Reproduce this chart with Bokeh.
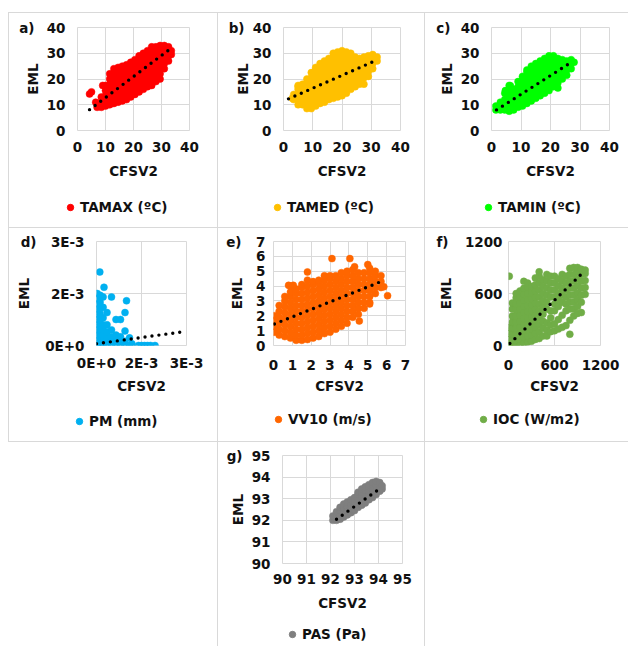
from bokeh.plotting import figure
from bokeh.layouts import column, row
from bokeh.models import Range1d, FixedTicker, Legend, LegendItem, Spacer, LinearAxis
from bokeh.embed import file_html
from bokeh.resources import INLINE

FONT = "DejaVu Sans"
FS = "13.5px"
GRID = "#d9d9d9"
INK = "#111111"

# ---------------- data ----------------
# clouds written as {x: [y, y, ...]} columns plus isolated points
TAMAX_COLS = {
    7: [9, 10.5], 8.5: [9, 11, 13], 10: [9.5, 11.5, 13.5, 15.5, 17.5],
    11.5: [10, 12, 14, 16, 18, 20, 22], 13: [10.5, 12.5, 14.5, 16.5, 18.5, 20.5, 22.5, 24],
    14.5: [11, 13, 15, 17, 19, 21, 23, 24.5], 16: [11.5, 13.5, 15.5, 17.5, 19.5, 21.5, 23.5, 25],
    17.5: [12, 14, 16, 18, 20, 22, 24, 25.5], 19: [13, 15, 17, 19, 21, 23, 25, 26.5],
    20.5: [14, 16, 18, 20, 22, 24, 26, 27.5], 22: [15, 17, 19, 21, 23, 25, 27, 29],
    23.5: [16, 18, 20, 22, 24, 26, 28, 30], 25: [17, 19, 21, 23, 25, 27, 29, 31],
    26.5: [17.5, 19.5, 21.5, 23.5, 25.5, 27.5, 29.5, 31.5, 32.5],
    28: [19, 21, 23, 25, 27, 29, 31, 32.5], 29.5: [20, 22, 24, 26, 28, 30, 32, 33],
    31: [24, 26, 28, 30, 32, 33], 32.5: [27, 29, 31, 32.5], 33.5: [29.5, 31],
}
TAMAX_OUT = [(4.3, 14.2), (5, 15), (6.5, 11), (9, 17.5)]
TAMAX_TREND_X = [4.3, 32.5]
TAMAX_TREND_Y = [8.1, 31.2]

TAMED_COLS = {
    3.5: [12, 14], 5: [10, 12, 14, 16, 17.5], 6.5: [10, 12, 14, 16, 18],
    8: [8.5, 10.5, 12.5, 14.5, 16.5, 18.5, 20], 9.5: [8.5, 10.5, 12.5, 14.5, 16.5, 18.5, 20.5, 22.5],
    11: [9.5, 11.5, 13.5, 15.5, 17.5, 19.5, 21.5, 23.5, 24.5],
    12.5: [10.5, 12.5, 14.5, 16.5, 18.5, 20.5, 22.5, 24.5, 26],
    14: [11, 13, 15, 17, 19, 21, 23, 25, 27], 15.5: [12, 14, 16, 18, 20, 22, 24, 26, 28],
    17: [12.5, 14.5, 16.5, 18.5, 20.5, 22.5, 24.5, 26.5, 28.5, 30],
    18.5: [13, 15, 17, 19, 21, 23, 25, 27, 29, 30.5],
    20: [13.5, 15.5, 17.5, 19.5, 21.5, 23.5, 25.5, 27.5, 29.5, 31],
    21.5: [14.5, 16.5, 18.5, 20.5, 22.5, 24.5, 26.5, 28.5, 30.5],
    23: [16, 18, 20, 22, 24, 26, 28, 30], 24.5: [17, 19, 21, 23, 25, 27, 28.5],
    26: [18, 20, 22, 24, 26, 28], 27.5: [18, 20.5, 22.5, 24.5, 26.5, 28.5],
    29: [21, 23, 25, 27, 29], 30.5: [24, 26, 28, 29.5], 32: [27, 28.5],
}
TAMED_OUT = [(3, 12.5), (5, 17)]
TAMED_TREND_X = [1.7, 30.8]
TAMED_TREND_Y = [12.3, 26.8]

TAMIN_COLS = {
    1.5: [8, 9.5], 3: [8, 9.5, 11], 4.5: [8, 10, 12, 14.5],
    6: [7.5, 9.5, 11.5, 13.5, 15.5, 17.5], 7.5: [8, 10, 12, 14, 16],
    9: [9, 11, 13, 15, 17, 19], 10.5: [9.5, 11.5, 13.5, 15.5, 17.5, 19.5, 21],
    12: [10.5, 12.5, 14.5, 16.5, 18.5, 20.5, 22.5, 23.5],
    13.5: [11.5, 13.5, 15.5, 17.5, 19.5, 21.5, 23.5, 25],
    15: [12.5, 14.5, 16.5, 18.5, 20.5, 22.5, 24.5, 26],
    16.5: [13.5, 15.5, 17.5, 19.5, 21.5, 23.5, 25.5, 27],
    18: [14.5, 16.5, 18.5, 20.5, 22.5, 24.5, 26.5, 28],
    19.5: [15.5, 17.5, 19.5, 21.5, 23.5, 25.5, 27.5, 29],
    21: [17, 19, 21, 23, 25, 27, 29], 22.5: [16.5, 18.5, 20.5, 22.5, 24.5, 26.5, 28],
    24: [20, 22, 24, 26, 27.5], 25.5: [21.5, 23.5, 25.5, 27], 27: [24, 26, 27.5], 28: [26.5],
}
TAMIN_OUT = [(4.7, 15.5), (6.4, 17.4)]
TAMIN_TREND_X = [1.7, 27.5]
TAMIN_TREND_Y = [8.0, 26.8]

PM_COLS = {
    0.02e-3: [0, 0.15e-3, 0.3e-3, 0.45e-3, 0.6e-3, 0.75e-3, 0.9e-3, 1.05e-3, 1.2e-3, 1.35e-3, 1.5e-3],
    0.12e-3: [0, 0.15e-3, 0.3e-3, 0.45e-3, 0.6e-3, 0.75e-3, 0.9e-3, 1.05e-3, 1.25e-3, 1.45e-3],
    0.22e-3: [0, 0.15e-3, 0.3e-3, 0.45e-3, 0.6e-3, 0.8e-3, 1.1e-3, 1.4e-3],
    0.35e-3: [0, 0.12e-3, 0.25e-3, 0.4e-3, 0.6e-3, 0.95e-3],
    0.5e-3: [0, 0.12e-3, 0.25e-3, 0.45e-3, 1.4e-3],
    0.65e-3: [0, 0.12e-3, 0.3e-3, 0.75e-3],
    0.8e-3: [0, 0.12e-3, 0.25e-3, 0.75e-3],
    0.95e-3: [0, 0.12e-3, 0.42e-3, 0.95e-3],
    1.1e-3: [0, 0.22e-3],
}
PM_OUT = [(0.11e-3, 2.12e-3), (0.25e-3, 1.68e-3), (1.0e-3, 1.29e-3), (1.18e-3, 0.05e-3),
          (1.4e-3, 0), (1.5e-3, 0), (1.6e-3, 0), (1.7e-3, 0), (1.8e-3, 0), (1.95e-3, 0)]
PM_TREND_X = [0, 3e-3]
PM_TREND_Y = [0.05e-3, 0.41e-3]

VV10_COLS = {
    0.05: [0.9, 1.3, 1.7, 2.0], 0.3: [0.7, 1.1, 1.5, 1.9, 2.3, 2.7],
    0.6: [0.6, 1.0, 1.4, 1.8, 2.2, 2.6, 3.0, 3.3],
    0.9: [0.5, 0.9, 1.3, 1.7, 2.1, 2.5, 2.9, 3.3, 3.6, 4.0],
    1.2: [0.35, 0.7, 1.1, 1.5, 1.9, 2.3, 2.7, 3.1, 3.5, 3.8],
    1.5: [0.35, 0.7, 1.1, 1.5, 1.9, 2.3, 2.7, 3.1, 3.5, 3.9, 4.1],
    1.8: [0.4, 0.8, 1.2, 1.6, 2.0, 2.4, 2.8, 3.2, 3.6, 4.0, 4.4, 4.95],
    2.1: [0.5, 0.9, 1.3, 1.7, 2.1, 2.5, 2.9, 3.3, 3.7, 4.1, 4.3],
    2.4: [0.6, 1.0, 1.4, 1.8, 2.2, 2.6, 3.0, 3.4, 3.8, 4.2, 4.4],
    2.7: [0.8, 1.2, 1.6, 2.0, 2.4, 2.8, 3.2, 3.6, 4.0, 4.4, 4.7],
    3.0: [0.9, 1.3, 1.7, 2.1, 2.5, 2.9, 3.3, 3.7, 4.1, 4.5, 4.7],
    3.3: [1.1, 1.5, 1.9, 2.3, 2.7, 3.1, 3.5, 3.9, 4.3, 4.7],
    3.6: [1.3, 1.7, 2.1, 2.5, 2.9, 3.3, 3.7, 4.1, 4.5, 4.9],
    3.9: [1.5, 1.9, 2.3, 2.7, 3.1, 3.5, 3.9, 4.3, 4.7, 5.0],
    4.2: [1.9, 2.3, 2.7, 3.1, 3.5, 3.9, 4.3, 4.7, 5.1],
    4.5: [2.1, 2.5, 2.9, 3.3, 3.7, 4.1, 4.5, 4.9],
    4.8: [2.5, 2.9, 3.3, 3.7, 4.1, 4.5, 4.9],
    5.1: [2.9, 3.3, 3.7, 4.1, 4.5, 4.9, 5.2],
    5.4: [3.5, 3.9, 4.3, 4.7, 5.0], 5.7: [3.9, 4.3, 4.7],
}
VV10_OUT = [(6.05, 3.35), (5.1, 2.8), (4.55, 1.65), (3.1, 5.85), (4.05, 5.85), (0.8, 4.05),
            (1.05, 4.05), (4.3, 5.3), (5.0, 5.45), (5.85, 3.95)]
VV10_TREND_X = [0.05, 5.8]
VV10_TREND_Y = [1.45, 4.35]

IOC_COLS = {
    10: [0, 70, 140, 210], 50: [0, 60, 130, 200, 270, 340, 420, 490],
    100: [0, 60, 130, 200, 270, 340, 410, 480, 550, 600],
    150: [0, 70, 140, 210, 280, 350, 420, 490, 560, 630],
    200: [30, 100, 170, 240, 310, 380, 450, 520, 590, 660, 740],
    250: [40, 110, 180, 250, 320, 390, 460, 530, 600, 670, 720],
    300: [50, 120, 190, 260, 330, 400, 470, 540, 610, 680],
    350: [70, 140, 210, 280, 350, 420, 490, 560, 630, 700, 780],
    400: [80, 160, 240, 320, 400, 480, 560, 640, 720, 800, 850],
    450: [110, 200, 280, 360, 440, 520, 600, 680, 760],
    500: [110, 180, 260, 420, 500, 580, 660, 740, 820],
    550: [160, 240, 320, 400, 560, 640, 720, 800],
    600: [170, 250, 400, 480, 560, 640, 720, 800],
    650: [190, 300, 450, 530, 610, 690, 770],
    700: [210, 350, 500, 580, 660, 740, 820],
    750: [230, 400, 480, 560, 640, 720, 800],
    800: [130, 290, 420, 500, 580, 660, 740, 820, 890],
    850: [340, 420, 500, 580, 660, 740, 820, 900],
    900: [370, 450, 530, 610, 690, 770, 850, 900],
    950: [380, 500, 580, 660, 740, 820, 880],
    1000: [590, 670, 750, 830, 870],
}
IOC_OUT = [(10, 800)]
IOC_TREND_X = [18, 966]
IOC_TREND_Y = [23, 837]

PAS_COLS = {
    92.1: [92.0, 92.2], 92.25: [92.0, 92.2, 92.4], 92.4: [92.05, 92.25, 92.45, 92.6],
    92.55: [92.15, 92.35, 92.55, 92.75], 92.7: [92.25, 92.45, 92.65, 92.85],
    92.85: [92.35, 92.55, 92.75, 92.95], 93.0: [92.45, 92.65, 92.85, 93.05],
    93.15: [92.6, 92.8, 93.0, 93.2, 93.3], 93.3: [92.7, 92.9, 93.1, 93.3, 93.45],
    93.45: [92.8, 93.0, 93.2, 93.4, 93.55], 93.6: [92.95, 93.15, 93.35, 93.55, 93.65],
    93.75: [93.05, 93.25, 93.45, 93.65, 93.75], 93.9: [93.2, 93.4, 93.6, 93.8],
    94.05: [93.35, 93.55, 93.75], 94.15: [93.45, 93.6],
}
PAS_OUT = []
PAS_TREND_X = [92.25, 94.1]
PAS_TREND_Y = [92.05, 93.5]

TICKS_40 = [0, 10, 20, 30, 40]
TICKS_PM = [0, 1.5e-3, 3e-3]
TICK_LABELS_PM = {0: "0E+0", 1.5e-3: "2E-3", 3e-3: "3E-3"}
TICKS_7 = [0, 1, 2, 3, 4, 5, 6, 7]
TICKS_1200 = [0, 600, 1200]
TICKS_95 = [90, 91, 92, 93, 94, 95]


def expand(cols, extra):
    xs, ys = [], []
    for x, yl in cols.items():
        for y in yl:
            xs.append(x)
            ys.append(y)
    for x, y in extra:
        xs.append(x)
        ys.append(y)
    return xs, ys


def shadow(sides):
    parts = {"l": "inset 1px 0 0 0 " + GRID, "t": "inset 0 1px 0 0 " + GRID,
             "r": "inset -1px 0 0 0 " + GRID, "b": "inset 0 -1px 0 0 " + GRID}
    return ", ".join(parts[s] for s in sides)


def style_axis(ax):
    ax.axis_line_color = None
    ax.major_tick_line_color = None
    ax.minor_tick_line_color = None
    ax.major_tick_out = 0
    ax.major_tick_in = 0
    ax.major_label_text_font = FONT
    ax.major_label_text_font_style = "bold"
    ax.major_label_text_font_size = FS
    ax.major_label_text_color = INK
    ax.axis_label_text_font = FONT
    ax.axis_label_text_font_style = "bold"
    ax.axis_label_text_font_size = FS
    ax.axis_label_text_color = INK


def cell(w, h, h_main, frame, sides, xr, yr, xt, yt, color, cols, extra, tx, ty,
         legend_text, letter, letter_k, legend_xy, y_std, ylab_std, x_std, xlab_std,
         overrides=None):
    l, r, t, b = frame
    p = figure(width=w, height=h_main, x_range=Range1d(*xr), y_range=Range1d(*yr),
               output_backend="svg", toolbar_location=None,
               min_border_left=l, min_border_right=r, min_border_top=t,
               min_border_bottom=h_main - b)
    p.border_fill_color = None
    p.background_fill_color = "white"
    p.outline_line_color = GRID
    main_sides = "".join(s for s in sides if s in "ltr")
    if main_sides:
        p.styles = {"box-shadow": shadow(main_sides)}
    p.xaxis.ticker = FixedTicker(ticks=xt)
    p.yaxis.ticker = FixedTicker(ticks=yt)
    if overrides:
        p.xaxis.major_label_overrides = overrides
        p.yaxis.major_label_overrides = overrides
    for ax in p.axis:
        style_axis(ax)
    p.xaxis.axis_label = "CFSV2"
    p.yaxis.axis_label = "EML"
    p.yaxis.major_label_standoff = y_std
    p.yaxis.axis_label_standoff = ylab_std
    p.xaxis.major_label_standoff = x_std
    p.xaxis.axis_label_standoff = xlab_std
    p.grid.grid_line_color = GRID
    xs, ys = expand(cols, extra)
    p.scatter(xs, ys, size=7, fill_color=color, line_color=color, line_width=0.5)
    p.line(tx, ty, line_color="black", line_width=3.4, line_dash="0 7", line_cap="round")
    # panel letter: an outer left axis with a single labelled tick at the top
    lab_ax = LinearAxis(ticker=FixedTicker(ticks=[yr[1]]),
                        major_label_overrides={yr[1]: letter})
    style_axis(lab_ax)
    lab_ax.major_label_standoff = -letter_k
    p.add_layout(lab_ax, "left")

    # legend strip underneath (its frame fills the strip, so nothing is clipped)
    hq = h - h_main
    q = figure(width=w - 1, height=hq, x_range=Range1d(-2, -1), y_range=Range1d(-2, -1),
               output_backend="svg", toolbar_location=None, min_border=0,
               x_axis_location=None, y_axis_location=None)
    q.border_fill_color = None
    q.background_fill_color = None
    q.outline_line_color = None
    q.grid.visible = False
    rr = q.scatter(xs, ys, size=7, fill_color=color, line_color=color)
    leg = Legend(items=[LegendItem(label=legend_text, renderers=[rr])], location=legend_xy,
                 padding=0, margin=0, spacing=0, glyph_width=16, glyph_height=16,
                 label_height=16, label_standoff=2, border_line_color=None,
                 background_fill_alpha=0, label_text_font=FONT,
                 label_text_font_style="bold", label_text_font_size=FS,
                 label_text_color=INK)
    q.add_layout(leg)
    strip = row(Spacer(width=1, height=hq), q)
    leg_sides = "".join(s for s in sides if s in "lrb")
    if leg_sides:
        strip.styles = {"box-shadow": shadow(leg_sides)}
    return column(p, strip)


ca = cell(209, 215, 180, (69, 28, 15, 118), "lt", (0, 40), (0, 40), TICKS_40, TICKS_40, "#ff0000",
          TAMAX_COLS, TAMAX_OUT, TAMAX_TREND_X, TAMAX_TREND_Y, "TAMAX (ºC)", "a)",
          13, (53, 12), 12, 3, 11, 8)
cb = cell(208, 215, 180, (66, 25, 15, 118), "ltr", (0, 40), (0, 40), TICKS_40, TICKS_40, "#ffc000",
          TAMED_COLS, TAMED_OUT, TAMED_TREND_X, TAMED_TREND_Y, "TAMED (ºC)", "b)",
          13, (51, 12), 12, -1, 11, 8)
cc = cell(203, 215, 180, (66, 19, 15, 118), "t", (0, 40), (0, 40), TICKS_40, TICKS_40, "#00ff00",
          TAMIN_COLS, TAMIN_OUT, TAMIN_TREND_X, TAMIN_TREND_Y, "TAMIN (ºC)", "c)",
          15, (54, 12), 12, 3, 11, 8)
cd = cell(209, 215, 180, (88, 31, 14, 118), "ltb", (0, 3e-3), (0, 3e-3), TICKS_PM, TICKS_PM, "#00b0f0",
          PM_COLS, PM_OUT, PM_TREND_X, PM_TREND_Y, "PM (mm)", "d)",
          23, (62, 13), 12, 10, 9, 4, overrides=TICK_LABELS_PM)
ce = cell(208, 215, 180, (56, 20, 14, 118), "ltrb", (0, 7), (0, 7), TICKS_7, TICKS_7, "#ff6600",
          VV10_COLS, VV10_OUT, VV10_TREND_X, VV10_TREND_Y, "VV10 (m/s)", "e)",
          15, (52, 15), 8, 8, 14, 5)
cf = cell(203, 215, 180, (83, 28, 14, 118), "tb", (0, 1200), (0, 1200), TICKS_1200, TICKS_1200, "#70ad47",
          IOC_COLS, IOC_OUT, IOC_TREND_X, IOC_TREND_Y, "IOC (W/m2)", "f)",
          14, (49, 15), 6, 8, 14, 5)
cg = cell(208, 204, 172, (65, 23, 13, 121), "lr", (90, 95), (90, 95), TICKS_95, TICKS_95, "#7f7f7f",
          PAS_COLS, PAS_OUT, PAS_TREND_X, PAS_TREND_Y, "PAS (Pa)", "g)",
          16, (66, 4), 12, 3, 10, 8)

layout = column(
    Spacer(width=620, height=12),
    row(Spacer(width=8, height=215), ca, cb, cc),
    row(Spacer(width=8, height=215), cd, ce, cf),
    row(Spacer(width=217, height=204), cg),
)

open("out.html", "w").write(file_html(layout, INLINE))
